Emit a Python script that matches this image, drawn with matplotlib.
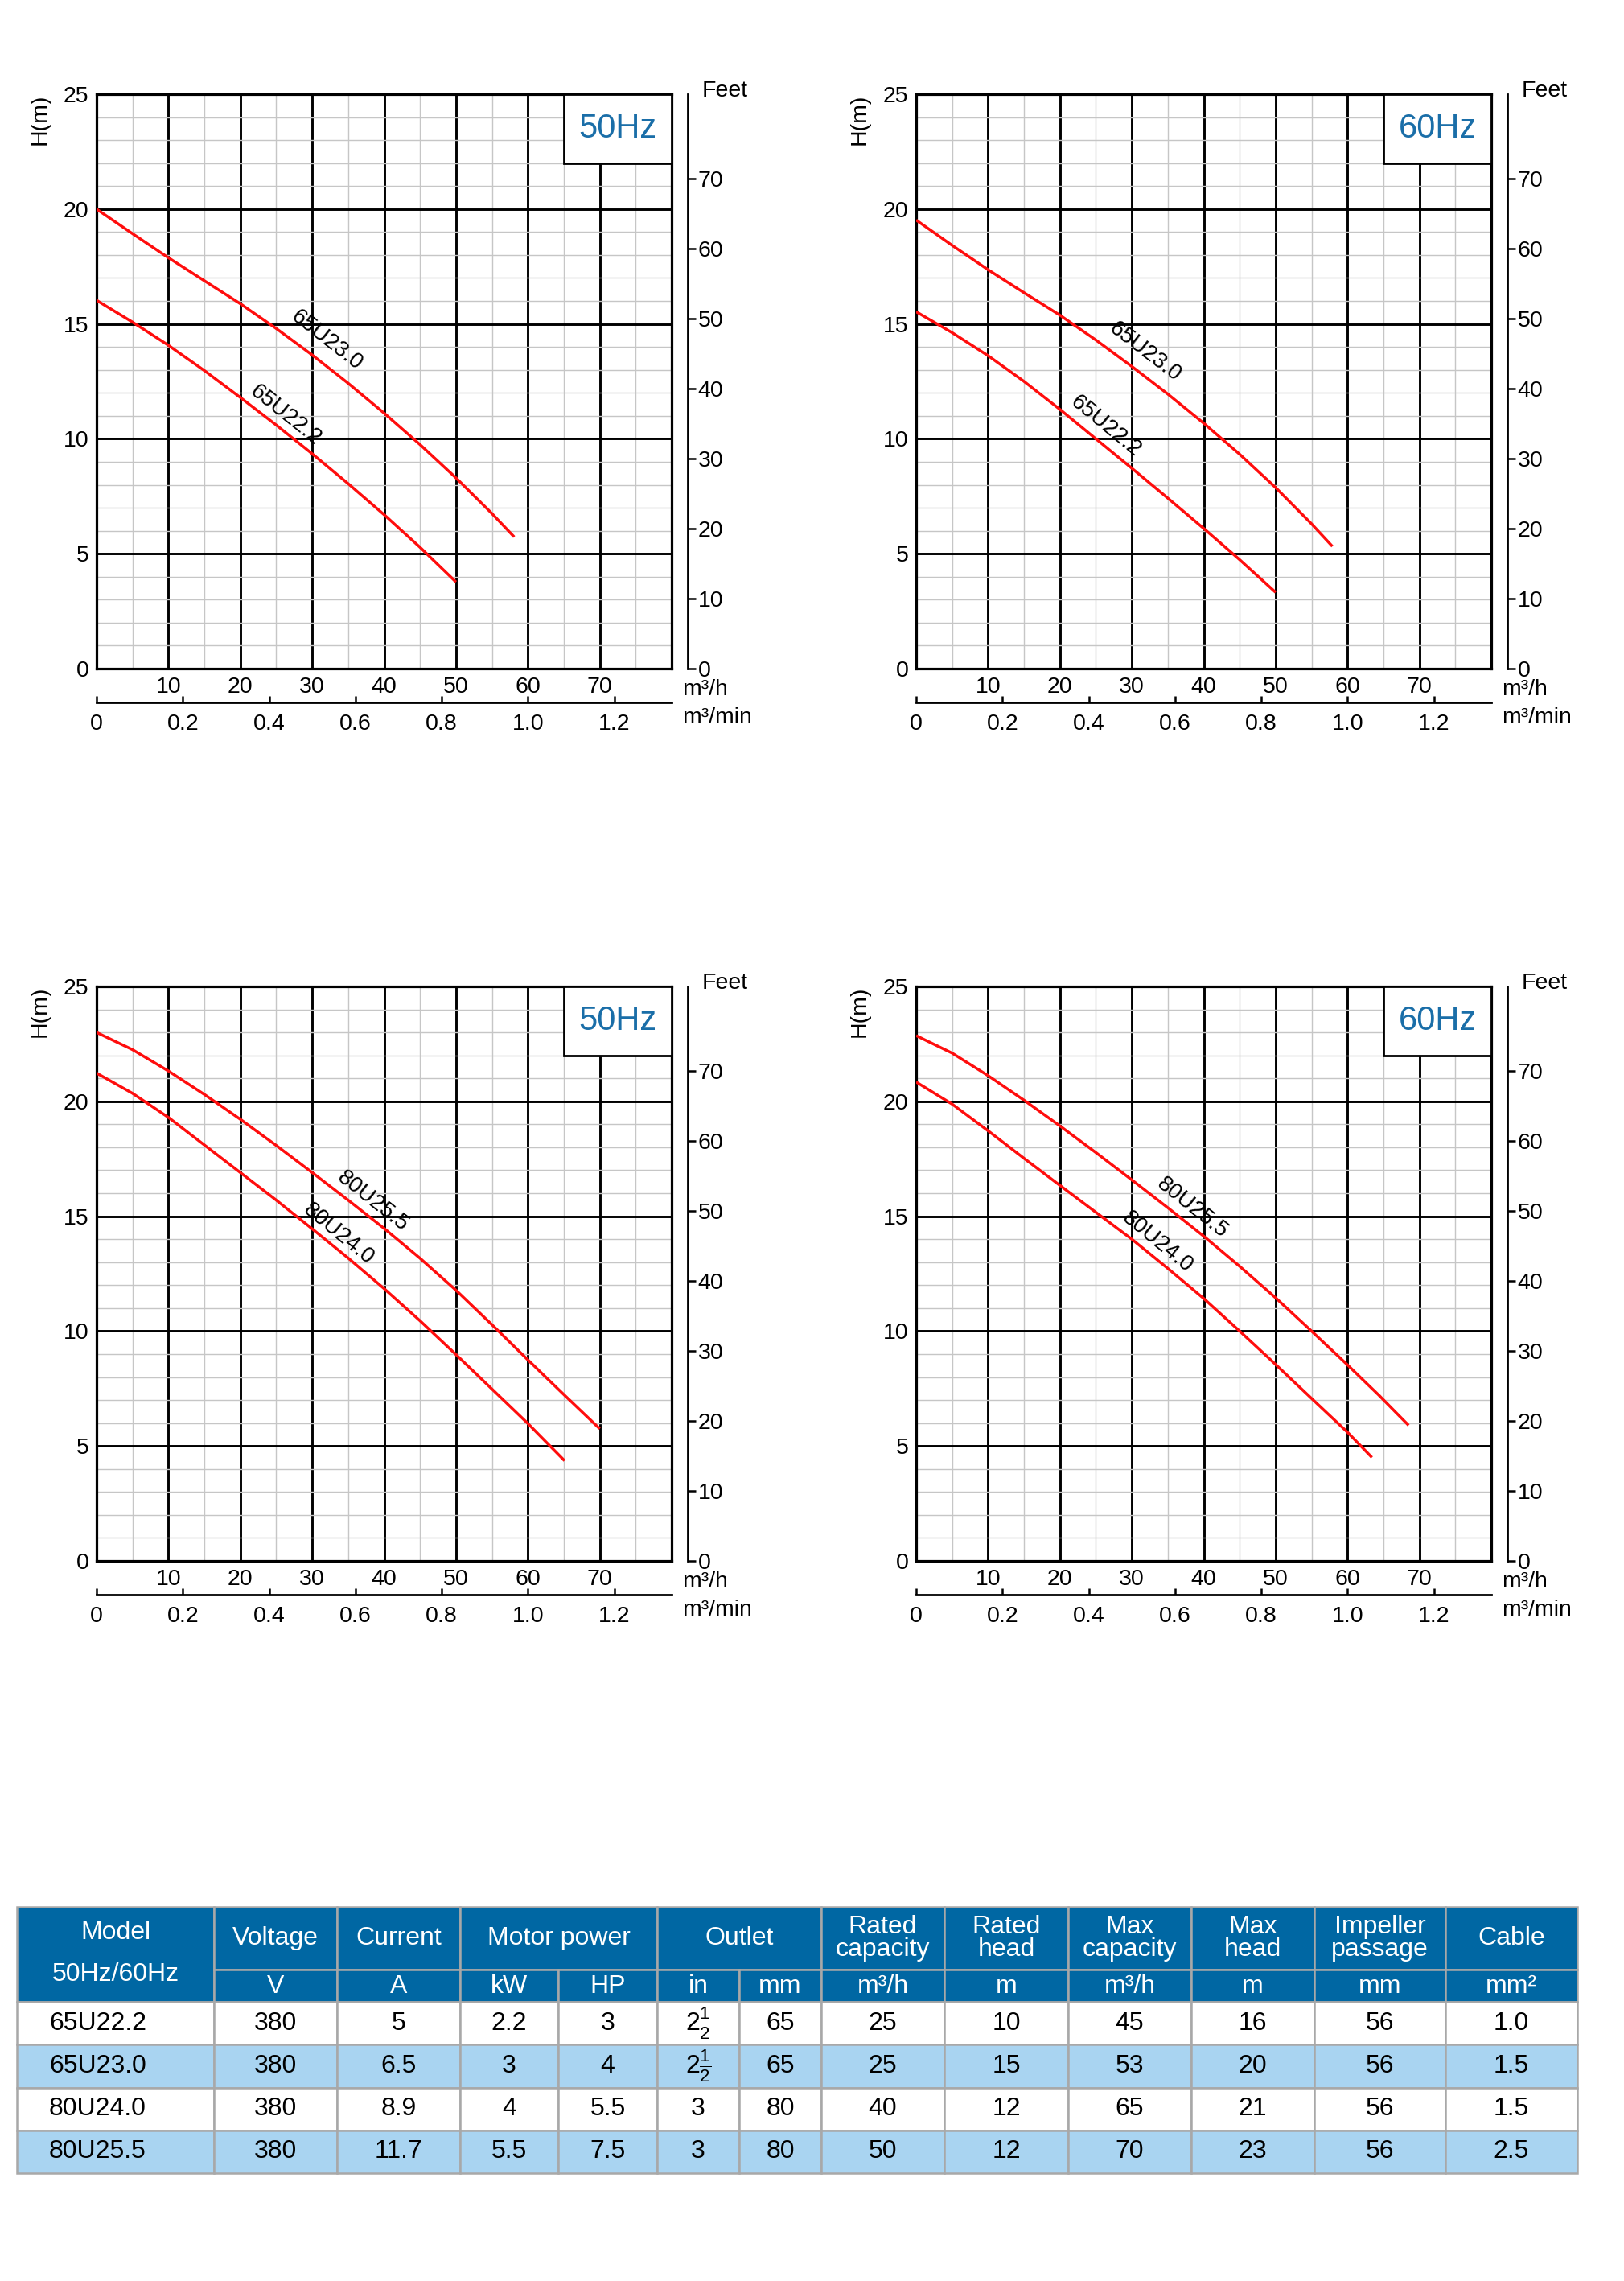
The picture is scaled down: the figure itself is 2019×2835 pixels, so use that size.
import numpy as np
import matplotlib
matplotlib.use("Agg")
import matplotlib.pyplot as plt
from matplotlib.patches import Rectangle

plt.rcParams["font.family"] = ["Liberation Sans", "DejaVu Sans"]
plt.rcParams["mathtext.fontset"] = "custom"
plt.rcParams["mathtext.rm"] = "Liberation Sans"
plt.rcParams["mathtext.it"] = "Liberation Sans:italic"
plt.rcParams["mathtext.bf"] = "Liberation Sans:bold"

# ---- curve data: flow (m3/h) vs head (m) ----
q_65u23_50 = [0, 5, 10, 15, 20, 25, 30, 35, 40, 45, 50, 55, 58.1]
h_65u23_50 = [20.0, 18.93, 17.88, 16.88, 15.88, 14.8, 13.65, 12.42, 11.12, 9.75, 8.3, 6.75, 5.73]
q_65u22_50 = [0, 5, 10, 15, 20, 25, 30, 35, 40, 45, 50]
h_65u22_50 = [16.03, 15.08, 14.07, 12.97, 11.8, 10.6, 9.35, 8.05, 6.7, 5.28, 3.77]

q_65u23_60 = [0, 5, 10, 15, 20, 25, 30, 35, 40, 45, 50, 55, 57.9]
h_65u23_60 = [19.52, 18.42, 17.36, 16.36, 15.38, 14.3, 13.15, 11.95, 10.68, 9.33, 7.88, 6.3, 5.32]
q_65u22_60 = [0, 5, 10, 15, 20, 25, 30, 35, 40, 45, 50]
h_65u22_60 = [15.53, 14.62, 13.62, 12.5, 11.28, 10.0, 8.72, 7.42, 6.1, 4.74, 3.32]

q_80u255_50 = [0, 5, 10, 15, 20, 25, 30, 35, 40, 45, 50, 55, 60, 65, 70]
h_80u255_50 = [23.0, 22.25, 21.32, 20.3, 19.22, 18.08, 16.9, 15.7, 14.47, 13.17, 11.78, 10.28, 8.75, 7.24, 5.75]
q_80u24_50 = [0, 5, 10, 15, 20, 25, 30, 35, 40, 45, 50, 55, 60, 65.1]
h_80u24_50 = [21.23, 20.35, 19.3, 18.1, 16.9, 15.7, 14.45, 13.18, 11.85, 10.45, 8.98, 7.48, 5.98, 4.36]

q_80u255_60 = [0, 5, 10, 15, 20, 25, 30, 35, 40, 45, 50, 55, 60, 64.4, 68.5]
h_80u255_60 = [22.86, 22.1, 21.12, 20.05, 18.93, 17.77, 16.58, 15.37, 14.13, 12.82, 11.45, 10.0, 8.53, 7.2, 5.9]
q_80u24_60 = [0, 5, 10, 15, 20, 25, 30, 35, 40, 45, 50, 55, 60, 63.4]
h_80u24_60 = [20.84, 19.88, 18.72, 17.52, 16.34, 15.17, 14.0, 12.73, 11.42, 10.0, 8.55, 7.07, 5.6, 4.5]

feet_ticks = [0, 10, 20, 30, 40, 50, 60, 70]
flow_ticks = [10, 20, 30, 40, 50, 60, 70]
mmin_ticks = [0, 0.2, 0.4, 0.6, 0.8, 1.0, 1.2]
mmin_labels = ["0", "0.2", "0.4", "0.6", "0.8", "1.0", "1.2"]

# ---- table data ----
models = ["65U22.2", "65U23.0", "80U24.0", "80U25.5"]
voltage = ["380", "380", "380", "380"]
current = ["5", "6.5", "8.9", "11.7"]
power_kw = ["2.2", "3", "4", "5.5"]
power_hp = ["3", "4", "5.5", "7.5"]
outlet_in = [r"$2\frac{1}{2}$", r"$2\frac{1}{2}$", "3", "3"]
outlet_mm = ["65", "65", "80", "80"]
rated_cap = ["25", "25", "40", "50"]
rated_head = ["10", "15", "12", "12"]
max_cap = ["45", "53", "65", "70"]
max_head = ["16", "20", "21", "23"]
impeller = ["56", "56", "56", "56"]
cable = ["1.0", "1.5", "1.5", "2.5"]

header_top = [("Voltage", 1), ("Current", 1), ("Motor power", 2), ("Outlet", 2),
              ("Rated\ncapacity", 1), ("Rated\nhead", 1), ("Max\ncapacity", 1),
              ("Max\nhead", 1), ("Impeller\npassage", 1), ("Cable", 1)]
header_units = ["V", "A", "kW", "HP", "in", "mm", "m³/h", "m", "m³/h", "m", "mm", "mm²"]

W, H = 2019, 2835
RED = "#ff0d0d"
BLUE_TXT = "#1a6ea8"
HEAD_BLUE = "#0067a3"
ROW_BLUE = "#a9d4f1"
LINE_GRAY = "#a8a8a8"


def m_to_ft(m):
    return np.asarray(m) / 0.3048


def ft_to_m(f):
    return np.asarray(f) * 0.3048


def draw_chart(fig, left_px, top_px, freq, series):
    aw, ah = 715, 714
    ax = fig.add_axes([left_px / W, 1 - (top_px + ah) / H, aw / W, ah / H])
    ax.set_xlim(0, 80)
    ax.set_ylim(0, 25)
    ax.set_xticks(flow_ticks)
    ax.set_xticks(np.arange(5, 80, 5), minor=True)
    ax.set_yticks(range(0, 26, 5))
    ax.set_yticks(range(0, 26), minor=True)
    ax.set_axisbelow(True)
    ax.grid(which="minor", color="#c6c6c6", lw=1.0)
    ax.grid(which="major", color="black", lw=2.1)
    ax.tick_params(which="both", length=0, labelsize=20.5)
    ax.tick_params(axis="y", pad=7)
    ax.tick_params(axis="x", pad=7)
    for sp in ax.spines.values():
        sp.set_linewidth(2.3)

    # frequency box in the upper right corner
    ax.add_patch(Rectangle((65, 22), 15, 3, facecolor="white", edgecolor="black",
                           lw=2.0, zorder=3))
    ax.text(72.5, 23.5, freq, color=BLUE_TXT, fontsize=30, ha="center", va="center",
            zorder=5)

    for q, h, name, lx, ly in series:
        ax.plot(q, h, color=RED, lw=2.5, zorder=4, solid_capstyle="butt",
                solid_joinstyle="round")
        p = ax.transData.transform([[lx - 2, np.interp(lx - 2, q, h)],
                                    [lx + 2, np.interp(lx + 2, q, h)]])
        ang = np.degrees(np.arctan2(p[1, 1] - p[0, 1], p[1, 0] - p[0, 0]))
        ax.text(lx, ly, name, rotation=ang, rotation_mode="anchor", ha="center",
                va="center", fontsize=20, zorder=5)

    # feet scale on the right
    feet = ax.secondary_yaxis(1 + 20 / aw, functions=(m_to_ft, ft_to_m))
    feet.set_yticks(feet_ticks)
    feet.tick_params(direction="out", length=7, width=1.8, labelsize=20.5, pad=2)
    for sp in feet.spines.values():
        sp.set_linewidth(2.0)

    # m3/min scale below
    mmin = ax.secondary_xaxis(-42 / ah, functions=(lambda x: np.asarray(x) / 60,
                                                   lambda x: np.asarray(x) * 60))
    mmin.set_xticks(mmin_ticks, labels=mmin_labels)
    mmin.tick_params(direction="in", length=6, width=1.8, labelsize=20.5, pad=10)
    for sp in mmin.spines.values():
        sp.set_linewidth(2.0)

    ax.text(-0.098, 1.0, "H(m)", rotation=90, ha="center", va="top",
            transform=ax.transAxes, fontsize=20.5)
    ax.text(1.053, 1.006, "Feet", ha="left", va="center", transform=ax.transAxes,
            fontsize=20.5)
    ax.text(1.018, -0.036, "m³/h", ha="left", va="center", transform=ax.transAxes,
            fontsize=20.5)
    ax.text(1.018, -0.085, "m³/min", ha="left", va="center", transform=ax.transAxes,
            fontsize=20.5)
    return ax


def draw_table(fig):
    col_w = [245, 153, 153, 122, 123, 102, 102, 153, 154, 153, 153, 163, 164]
    row_top, row_unit, row_data = 78, 40, 53.25
    tw = sum(col_w)
    th = row_top + row_unit + row_data * len(models)
    left, top = 21, 2370
    ax = fig.add_axes([left / W, 1 - (top + th) / H, tw / W, th / H])
    ax.set_xlim(0, tw)
    ax.set_ylim(th, 0)
    ax.axis("off")
    edges = np.concatenate([[0], np.cumsum(col_w)])

    def cell(x0, x1, y0, y1, fc):
        ax.add_patch(Rectangle((x0, y0), x1 - x0, y1 - y0, facecolor=fc,
                               edgecolor=LINE_GRAY, lw=1.8, clip_on=False))

    fs = 23
    hdr = dict(color="white", fontsize=fs, ha="center", va="center")
    # model column (merged over both header rows)
    cell(edges[0], edges[1], 0, row_top + row_unit, HEAD_BLUE)
    xc = (edges[0] + edges[1]) / 2
    ax.text(xc, 32, "Model", **hdr)
    ax.text(xc, 84, "50Hz/60Hz", **hdr)

    c = 1
    for label, span in header_top:
        cell(edges[c], edges[c + span], 0, row_top, HEAD_BLUE)
        ax.text((edges[c] + edges[c + span]) / 2, row_top / 2, label,
                linespacing=0.95, **hdr)
        c += span
    for i, u in enumerate(header_units):
        x0, x1 = edges[i + 1], edges[i + 2]
        cell(x0, x1, row_top, row_top + row_unit, HEAD_BLUE)
        ax.text((x0 + x1) / 2, row_top + row_unit / 2 + 1, u, **hdr)

    columns = [models, voltage, current, power_kw, power_hp, outlet_in, outlet_mm,
               rated_cap, rated_head, max_cap, max_head, impeller, cable]
    for r in range(len(models)):
        y0 = row_top + row_unit + r * row_data
        fc = "white" if r % 2 == 0 else ROW_BLUE
        for j, col in enumerate(columns):
            cell(edges[j], edges[j + 1], y0, y0 + row_data, fc)
            if j == 0:
                ax.text(edges[0] + 40, y0 + row_data / 2, col[r], fontsize=fs,
                        ha="left", va="center")
            else:
                ax.text((edges[j] + edges[j + 1]) / 2, y0 + row_data / 2, col[r],
                        fontsize=fs, ha="center", va="center")


fig = plt.figure(figsize=(W / 100, H / 100), dpi=100)

draw_chart(fig, 120, 117, "50Hz", [
    (q_65u23_50, h_65u23_50, "65U23.0", 32.0, 14.28),
    (q_65u22_50, h_65u22_50, "65U22.2", 26.3, 11.02),
])
draw_chart(fig, 1139, 117, "60Hz", [
    (q_65u23_60, h_65u23_60, "65U23.0", 31.8, 13.77),
    (q_65u22_60, h_65u22_60, "65U22.2", 26.3, 10.55),
])
draw_chart(fig, 120, 1226, "50Hz", [
    (q_80u255_50, h_80u255_50, "80U25.5", 38.4, 15.66),
    (q_80u24_50, h_80u24_50, "80U24.0", 33.7, 14.23),
])
draw_chart(fig, 1139, 1226, "60Hz", [
    (q_80u255_60, h_80u255_60, "80U25.5", 38.4, 15.37),
    (q_80u24_60, h_80u24_60, "80U24.0", 33.6, 13.89),
])
draw_table(fig)

fig.savefig("out.png", dpi=100)
